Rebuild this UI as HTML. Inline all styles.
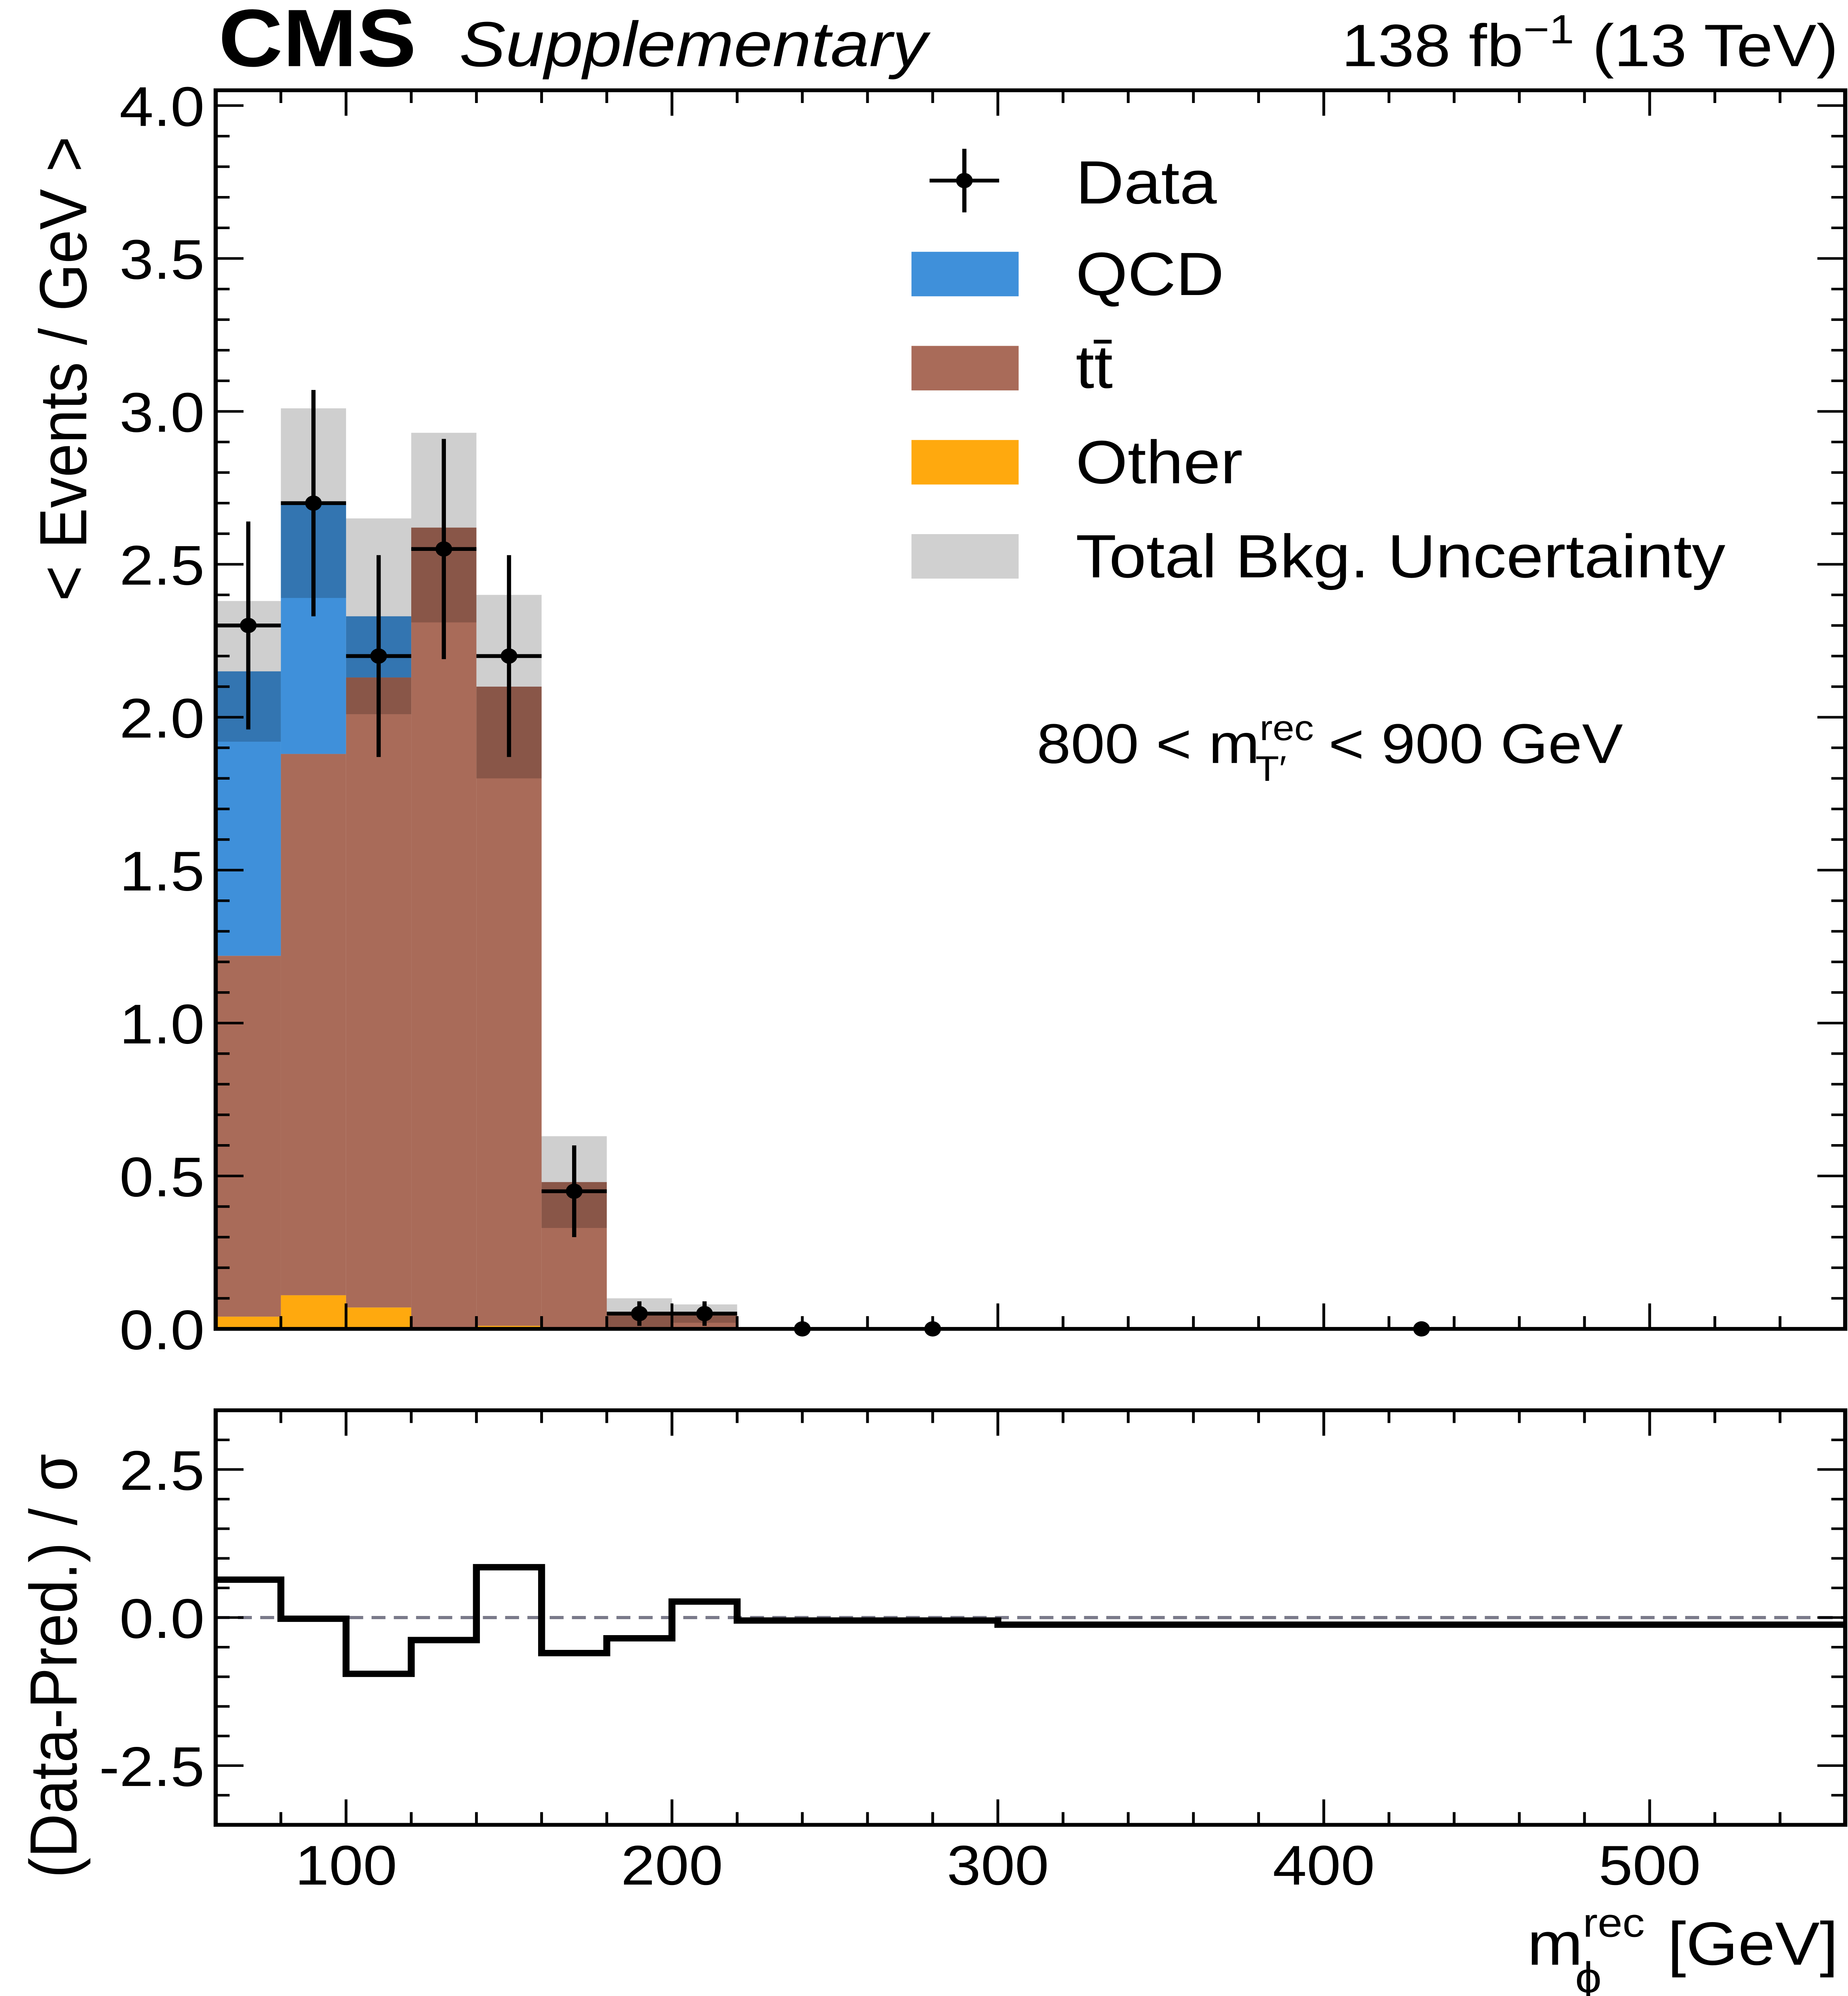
<!DOCTYPE html>
<html><head><meta charset="utf-8"><style>
html,body{margin:0;padding:0;background:#fff;width:100vw;height:100vh;overflow:hidden}
svg{display:block;position:fixed;left:0;top:0;width:100vw;height:100vh}
text{font-family:"Liberation Sans",sans-serif;fill:#000}
</style></head><body>
<svg id="chart" xmlns="http://www.w3.org/2000/svg" viewBox="0 0 1328 1569.6" preserveAspectRatio="none">
<rect width="1328" height="1569.6" fill="#fff"/>
<g id="main"></g>
<g id="ratio"></g>
<text x="157" y="52" font-size="64" font-weight="bold">CMS</text>
<text x="330" y="52" font-size="50" font-style="italic">Supplementary</text>
<text x="1321" y="52" font-size="47" text-anchor="end">138 fb<tspan dy="-18" font-size="32">−1</tspan><tspan dy="18"> (13 TeV)</tspan></text>
<text transform="translate(62,290) rotate(-90)" font-size="48" text-anchor="middle">&lt; Events / GeV &gt;</text>
<text transform="translate(55,1310) rotate(-90)" font-size="48" text-anchor="middle">(Data-Pred.) / σ</text>
<text x="1321" y="1545" font-size="48" text-anchor="end">m<tspan dy="-22" font-size="32">rec</tspan><tspan dx="-50" dy="44" font-size="34">ϕ</tspan><tspan dx="34" dy="-22"> [GeV]</tspan></text>
<text x="745" y="600" font-size="44">800 &lt; m<tspan dy="-18" font-size="28">rec</tspan><tspan dx="-42" dy="32" font-size="28">T′</tspan><tspan dx="18" dy="-14"> &lt; 900 GeV</tspan></text>
<g>
<g><line x1="668" y1="142" x2="718" y2="142" stroke="#000" stroke-width="3"/><line x1="693" y1="117" x2="693" y2="167" stroke="#000" stroke-width="3"/><circle cx="693" cy="142" r="6"/><text x="773" y="160" font-size="48">Data</text></g>
<g><rect x="655" y="198" width="77" height="35" fill="#3f90da"/><text x="773" y="232" font-size="48">QCD</text></g>
<g><rect x="655" y="272" width="77" height="35" fill="#a96b59"/><text x="773" y="305" font-size="48">tt̄</text></g>
<g><rect x="655" y="346" width="77" height="35" fill="#ffa90e"/><text x="773" y="380" font-size="48">Other</text></g>
<g><rect x="655" y="420" width="77" height="35" fill="#d0d0d0"/><text x="773" y="454" font-size="48">Total Bkg. Uncertainty</text></g>
</g>
</svg>
<script>
const binEdges=[60,80,100,120,140,160,180,200,220,260,300,560];
const otherVals=[0.04,0.11,0.07,0,0.01,0,0,0,0,0,0];
const ttbarVals=[1.18,1.77,2.06,2.62,2.09,0.48,0.05,0.05,0,0,0];
const qcdVals=[0.93,0.82,0.20,0,0,0,0,0,0,0,0];
const uncVals=[0.23,0.31,0.32,0.31,0.30,0.15,0.05,0.03,0,0,0];
const dataVals=[2.3,2.7,2.2,2.55,2.2,0.45,0.05,0.05,0,0,0];
const dataErr=[0.34,0.37,0.33,0.36,0.33,0.15,0.04,0.04,0,0,0];
const pullVals=[0.64,-0.02,-0.95,-0.38,0.85,-0.6,-0.35,0.27,-0.05,-0.05,-0.12];
const yTicks=[0,0.5,1.0,1.5,2.0,2.5,3.0,3.5,4.0];
const rTicks=[-2.5,0,2.5];
const xTicks=[100,200,300,400,500];
const NS="http://www.w3.org/2000/svg";
const X0=155,X1=1326,M0=71,M1=1045,R0=1109,R1=1435;
const xs=v=>X0+(v-60)/(500)*(X1-X0);
const ys=v=>M1-v*240.5;
const rs=v=>(R0+R1)/2-v*(R1-R0)/7;
function mk(p,t,a){const e=document.createElementNS(NS,t);for(const k in a)e.setAttribute(k,a[k]);p.appendChild(e);return e;}
const main=document.getElementById('main'),ratio=document.getElementById('ratio');
for(let i=0;i<dataVals.length;i++){
 const xa=xs(binEdges[i]),xb=xs(binEdges[i+1]);
 const o=otherVals[i],t=o+ttbarVals[i],q=t+qcdVals[i];
 if(o>0){const r=mk(main,'rect',{x:xa,y:ys(o),width:xb-xa,height:ys(0)-ys(o),fill:'#ffa90e'});
 
 }
 if(t>o){const r=mk(main,'rect',{x:xa,y:ys(t),width:xb-xa,height:ys(o)-ys(t),fill:'#a96b59'});
 
 }
 if(q>t){const r=mk(main,'rect',{x:xa,y:ys(q),width:xb-xa,height:ys(t)-ys(q),fill:'#3f90da'});
 
 }
 if(uncVals[i]>0){const lo=Math.max(0,q-uncVals[i]),hi=q+uncVals[i];
 const r=mk(main,'rect',{x:xa,y:ys(hi),width:xb-xa,height:ys(lo)-ys(hi),fill:'rgba(0,0,0,0.19)'});
 
 }
}
for(let i=0;i<dataVals.length;i++){
 const xa=xs(binEdges[i]),xb=xs(binEdges[i+1]),xc=(xa+xb)/2;
 const g=mk(main,'g',{});
 
 
 if(dataVals[i]>0){
 mk(g,'line',{x1:xa,x2:xb,y1:ys(dataVals[i]),y2:ys(dataVals[i]),stroke:'#000','stroke-width':3});
 mk(g,'line',{x1:xc,x2:xc,y1:ys(dataVals[i]+dataErr[i]),y2:ys(dataVals[i]-dataErr[i]),stroke:'#000','stroke-width':3});}
 mk(g,'circle',{cx:xc,cy:ys(dataVals[i]),r:6,fill:'#000'});
}
let d='';
for(let i=0;i<pullVals.length;i++){const y=rs(pullVals[i]);d+=(i?'L':'M')+xs(binEdges[i])+' '+y+'L'+xs(binEdges[i+1])+' '+y;}
mk(ratio,'line',{x1:X0,x2:X1,y1:rs(0),y2:rs(0),stroke:'#7a7a8a','stroke-width':2.5,'stroke-dasharray':'10 6'});
const pl=mk(ratio,'path',{d:d,fill:'none',stroke:'#000','stroke-width':5});


function frame(p,top,bot){mk(p,'rect',{x:X0,y:top,width:X1-X0,height:bot-top,fill:'none',stroke:'#000','stroke-width':3});
 for(let v=60;v<=560;v+=20){const x=xs(v),L=(v%100===0)?20:10;
  mk(p,'line',{x1:x,x2:x,y1:bot,y2:bot-L,stroke:'#000','stroke-width':2});
  mk(p,'line',{x1:x,x2:x,y1:top,y2:top+L,stroke:'#000','stroke-width':2});}}
frame(main,M0,M1);frame(ratio,R0,R1);
for(let v=0;v<=4.0001;v+=0.1){const y=ys(v),maj=Math.abs(v*2-Math.round(v*2))<1e-6,L=maj?20:10;
 mk(main,'line',{x1:X0,x2:X0+L,y1:y,y2:y,stroke:'#000','stroke-width':2});
 mk(main,'line',{x1:X1,x2:X1-L,y1:y,y2:y,stroke:'#000','stroke-width':2});}
for(const v of yTicks){const t=mk(main,'text',{x:147,y:ys(v)+16,'font-size':44,'text-anchor':'end'});t.textContent=v.toFixed(1);
 
 }
for(let v=-3.5;v<=3.5001;v+=0.5){const y=rs(v),maj=Math.abs(v/2.5-Math.round(v/2.5))<1e-6,L=maj?20:10;
 mk(ratio,'line',{x1:X0,x2:X0+L,y1:y,y2:y,stroke:'#000','stroke-width':2});
 mk(ratio,'line',{x1:X1,x2:X1-L,y1:y,y2:y,stroke:'#000','stroke-width':2});}
for(const v of rTicks){const t=mk(ratio,'text',{x:147,y:rs(v)+16,'font-size':44,'text-anchor':'end'});t.textContent=v.toFixed(1);
 
 }
for(const v of xTicks){const t=mk(ratio,'text',{x:xs(v),y:1482,'font-size':44,'text-anchor':'middle'});t.textContent=v;
 
 }
</script>
</body></html>
